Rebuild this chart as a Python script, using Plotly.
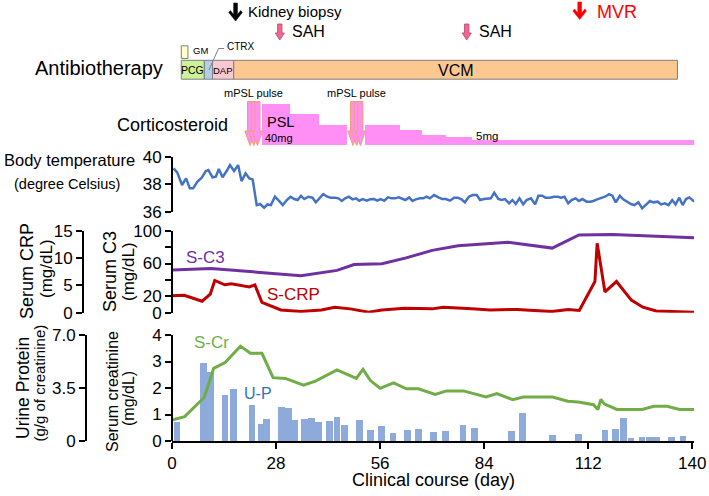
import plotly.graph_objects as go

# ---------------- data ----------------
# Body temperature (day, degree Celsius)
temp_day = [0.4, 1.4, 2.7, 3.8, 4.8, 5.7, 6.8, 8.0, 9.1, 9.8, 10.9, 11.8, 12.6, 13.6, 14.7, 15.6, 16.7, 17.8, 18.7, 19.8,
            20.8, 21.7, 22.8, 23.7, 24.8, 25.7, 26.6, 27.7, 28.8, 29.8, 30.9, 31.9, 32.9, 33.8, 34.7, 35.6, 36.7, 37.8, 38.7, 39.8,
            40.7, 41.8, 42.7, 43.9, 44.8, 45.7, 46.6, 47.6, 48.6, 49.5, 50.4, 51.3, 52.4, 53.3, 54.4, 55.2, 56.1, 57.1, 58.1, 59.1,
            60.0, 61.0, 61.8, 62.8, 63.8, 64.7, 65.6, 66.7, 67.6, 68.5,
            69.4, 70.5, 71.7, 72.7, 73.7, 74.8, 75.9, 76.9, 77.9, 78.8, 79.9, 80.9, 82.0, 82.9, 83.9, 84.9, 85.8, 86.7, 87.8, 88.7,
            89.6, 90.7, 91.6, 92.5, 93.5, 94.5, 95.4, 96.6, 97.7, 98.6, 99.6, 100.5, 101.7, 102.8, 103.8, 104.7, 105.6, 106.6, 107.5, 108.6,
            109.5, 110.4, 111.6, 112.5, 113.4, 114.4, 115.3, 116.5, 117.6, 118.5, 119.4, 120.5, 121.4, 122.6, 123.5, 124.4, 125.5, 126.5, 127.5, 128.6,
            129.5, 130.7, 131.6, 132.6, 133.6, 134.6, 135.5, 136.5, 137.4, 138.3, 139.2, 140.3, 141.2, 141.6]
temp_val = [39.15, 38.86, 37.94, 38.42, 37.70, 37.70, 38.18, 38.47, 38.96, 39.03, 38.50, 38.55, 39.10, 38.50, 38.96, 39.39, 38.96, 39.39, 38.23, 38.79,
            38.42, 38.35, 36.48, 36.56, 36.29, 36.53, 36.48, 37.09, 36.78, 36.48, 36.85, 37.09, 36.92, 36.85, 37.16, 36.92, 37.09, 37.02, 36.68, 37.02,
            37.28, 37.09, 37.02, 37.02, 36.97, 36.78, 36.97, 37.09, 36.90, 36.97, 36.80, 36.92, 36.80, 36.90, 36.92, 36.80, 36.92, 36.80, 37.04, 36.97,
            36.97, 37.04, 36.97, 36.85, 37.04, 36.78, 36.90, 36.97, 36.97, 37.09,
            36.97, 37.21, 37.04, 36.92, 36.92, 36.80, 37.02, 37.02, 36.90, 36.68, 37.09, 37.21, 37.21, 36.85, 36.92, 36.92, 36.97, 37.38, 36.92, 36.85,
            36.92, 36.61, 36.85, 36.56, 36.97, 36.53, 36.85, 36.97, 36.53, 37.16, 37.16, 37.02, 37.02, 37.09, 37.09, 37.02, 37.09, 36.61, 36.85, 36.97,
            36.78, 36.92, 36.73, 36.73, 36.78, 36.90, 36.97, 37.09, 37.28, 37.16, 36.68, 37.16, 36.90, 36.68, 36.56, 36.48, 36.68, 36.24, 36.48, 36.78,
            36.68, 36.73, 36.53, 36.61, 36.48, 36.85, 36.53, 37.02, 36.48, 36.92, 37.04, 36.78, 36.78, 36.97]

# Serum C3 (mg/dL)
c3_day = [0, 10.5, 34.7, 44.4, 49, 56.5, 63, 70, 77, 90.4, 102.3, 109.5, 118.5, 140.5]
c3_val = [52, 54, 45, 51.6, 58.8, 59.6, 66.8, 76, 81.6, 86, 78.8, 94.8, 95.5, 91.5]

# Serum CRP (mg/dL)
crp_day = [0, 3.3, 8.1, 10.3, 11.5, 14.2, 16, 20.8, 22.3, 24.2, 29.3, 34.7, 40.2, 43.8, 48, 52.9, 56.5, 62.6, 70, 73,
           80.7, 85.6, 92.9, 102.2, 106.6, 109.6, 113.8, 114.4, 116.5, 119.6, 123.6, 126.7, 130.3, 140.5]
crp_val = [3.1, 3.2, 2.1, 3.4, 5.9, 5.1, 5.3, 4.7, 5.1, 1.9, 0.5, 0.24, 0.5, 1.0, 0.7, 0.1, 0.5, 0.8, 0.7, 1.0,
           0.7, 0.5, 0.6, 0.2, 0.6, 0.4, 5.7, 12.7, 3.8, 5.7, 2.3, 1.0, 0.3, 0.1]

# Serum creatinine (mg/dL)
cr_day = [0, 3.4, 8.7, 11.2, 14.3, 18.4, 21.1, 24.2, 27.2, 30.5, 35.4, 38.6, 44.4, 49.6, 51.4, 53.4, 56, 59.6, 63.1, 66.3,
          70.8, 73.9, 78.4, 84.5, 87.4, 91.7, 94.5, 102.4, 106.5, 109.3, 113.4, 114.6, 115.4, 116.3, 119.7, 126.5, 129.7, 133.2, 136.6, 140.5]
cr_val = [0.79, 0.92, 1.65, 2.74, 2.96, 3.58, 3.31, 3.31, 2.39, 2.36, 2.11, 2.26, 2.68, 2.36, 2.70, 2.28, 1.99, 2.19, 1.97, 1.97,
          1.76, 1.89, 1.89, 1.66, 1.79, 1.56, 1.66, 1.66, 1.50, 1.47, 1.37, 1.19, 1.57, 1.40, 1.19, 1.19, 1.31, 1.31, 1.19, 1.19]

# Urine protein (g/g of creatinine)
up_day = [1.35, 8.5, 10.4, 14.3, 16.5, 21.5, 24.1, 25.5, 29.4, 31.3, 32.9, 35.6, 37.6, 39.4, 42.4, 44.4, 46.4, 50.5, 53.5, 56.4,
          59.5, 63.4, 66.4, 70.4, 73.5, 78.3, 81.4, 91.4, 94.4, 102.4, 109.4, 116.5, 119.4, 121.5, 123.5, 126.5, 128.4, 130.3, 134.4, 137.5]
up_val = [1.28, 5.18, 4.53, 3.01, 3.43, 2.36, 1.09, 1.47, 2.22, 2.19, 1.38, 1.47, 1.54, 1.26, 1.30, 1.61, 1.03, 1.38, 0.74, 0.96,
          0.53, 0.75, 0.82, 0.60, 0.68, 1.03, 0.86, 0.68, 1.82, 0.42, 0.44, 0.75, 0.77, 1.51, 0.19, 0.26, 0.26, 0.28, 0.26, 0.33]

# Prednisolone dosing steps (mg/day)
psl_start = [24.1, 31.7, 39.5, 51.9, 61.3, 67.2, 73.7, 80.6]
psl_end = [31.7, 39.5, 47.0, 61.3, 67.2, 73.7, 80.6, 141.0]
psl_dose = [40, 30, 20, 20, 15, 10, 7.5, 5]

# mPSL pulse days
mpsl_days = [21.0, 22.0, 23.0, 48.7, 49.7, 50.7]

# Antibiotherapy periods
abx_names = ["PCG", "CTRX", "DAP", "VCM"]
abx_start = [2.5, 8.7, 10.9, 16.6]
abx_end = [8.7, 10.9, 16.6, 136.0]
gm_start, gm_end = 2.5, 4.3

# Events
biopsy_day = 17.1
sah_days = [29.0, 79.3]
mvr_day = 109.7

x_ticks = [0, 28, 56, 84, 112, 140]

# ---------------- geometry helpers ----------------
W, H = 709, 496
X0_PX, X140_PX = 172.0, 692.3
PPD = (X140_PX - X0_PX) / 140.0
XMAX = 140.5
FONT = "Arial, Liberation Sans, sans-serif"


def fy(py):
    return 1 - py / H


def fx(px):
    return px / W


def day_px(d):
    return X0_PX + d * PPD


def path(day, pts):
    s = ""
    for i, (dx, py) in enumerate(pts):
        s += ("M" if i == 0 else "L") + f"{day + dx / PPD:.4f},{fy(py):.5f} "
    return s + "Z"


fig = go.Figure()

fig.add_trace(go.Scatter(x=temp_day, y=temp_val, mode="lines", yaxis="y",
                         line=dict(color="#4472C4", width=2.5), showlegend=False, hoverinfo="skip"))
fig.add_trace(go.Scatter(x=c3_day, y=c3_val, mode="lines", yaxis="y2",
                         line=dict(color="#7030A0", width=3), showlegend=False, hoverinfo="skip"))
fig.add_trace(go.Scatter(x=crp_day, y=crp_val, mode="lines", yaxis="y3",
                         line=dict(color="#C00000", width=3), showlegend=False, hoverinfo="skip"))
fig.add_trace(go.Bar(x=up_day, y=up_val, yaxis="y4", width=1.8,
                     marker=dict(color="#8EAADB", line=dict(width=0)), showlegend=False, hoverinfo="skip"))
fig.add_trace(go.Scatter(x=cr_day, y=cr_val, mode="lines", yaxis="y5",
                         line=dict(color="#70AD47", width=3), showlegend=False, hoverinfo="skip"))
psl_mid = [(a + b) / 2 for a, b in zip(psl_start, psl_end)]
psl_w = [b - a for a, b in zip(psl_start, psl_end)]
fig.add_trace(go.Bar(x=psl_mid, y=psl_dose, width=psl_w, yaxis="y6",
                     marker=dict(color="#FF8EF5", line=dict(width=0)), showlegend=False, hoverinfo="skip"))
abx_colors = ["#CCF29A", "#B4CEEA", "#F9C8D2", "#FCC890"]
fig.add_trace(go.Bar(orientation="h", y=[3.06] * 4 + [7.46],
                     x=[b - a for a, b in zip(abx_start, abx_end)] + [gm_end - gm_start],
                     base=abx_start + [gm_start], width=[4.72] * 4 + [3.17], yaxis="y7",
                     marker=dict(color=abx_colors + ["#FFFFCC"], line=dict(color="#7F7F7F", width=1)),
                     showlegend=False, hoverinfo="skip"))

ax_common = dict(showline=True, linewidth=2, linecolor="black", ticks="outside", ticklen=6,
                 tickwidth=2, tickcolor="black", showgrid=False, zeroline=False,
                 tickfont=dict(family=FONT, size=17, color="black"), automargin=False, fixedrange=True)

fig.update_layout(
    width=W, height=H, autosize=False,
    margin=dict(l=0, r=0, t=0, b=0),
    paper_bgcolor="white", plot_bgcolor="rgba(0,0,0,0)",
    barmode="overlay", bargap=0, hovermode=False,
    font=dict(family=FONT, color="black"),
    xaxis=dict(domain=[fx(X0_PX), fx(day_px(XMAX))], range=[0, XMAX], anchor="y4",
               tickvals=x_ticks, **ax_common),
    yaxis=dict(domain=[fy(211.7), fy(156.7)], range=[36, 40], anchor="free", position=fx(X0_PX),
               tickvals=[36, 38, 40], **ax_common),
    yaxis2=dict(domain=[fy(312.7), fy(230.7)], range=[0, 100], anchor="free", position=fx(X0_PX),
                tickvals=[0, 20, 40, 60, 80, 100], ticktext=["0", "20", "", "60", "", "100"], **ax_common),
    yaxis3=dict(overlaying="y2", range=[0, 15], anchor="free", position=fx(83),
                tickvals=[0, 5, 10, 15], **ax_common),
    yaxis4=dict(domain=[fy(441), fy(335)], range=[0, 7], anchor="free", position=fx(86),
                tickvals=[0, 3.5, 7], ticktext=["0", "3.5", "7.0"], **ax_common),
    yaxis5=dict(overlaying="y4", range=[0, 4], anchor="free", position=fx(X0_PX),
                tickvals=[0, 1, 2, 3, 4], **ax_common),
    yaxis6=dict(domain=[fy(145), fy(104)], range=[0, 40], visible=False, fixedrange=True),
    yaxis7=dict(domain=[fy(82), fy(42)], range=[0, 10], visible=False, fixedrange=True),
)

shapes = []


def chevron(day, top, tip, color):
    pts = [(-1.9, top), (1.9, top), (1.9, tip - 6.5), (5.2, tip - 10.5), (6.8, tip - 8.6), (0, tip),
           (-6.8, tip - 8.6), (-5.2, tip - 10.5), (-1.9, tip - 6.5)]
    return dict(type="path", xref="x", yref="paper", path=path(day, pts),
                fillcolor=color, line=dict(color=color, width=0.5))


shapes.append(chevron(biopsy_day, 3, 21, "black"))
shapes.append(chevron(mvr_day, 2, 19.5, "#FF0000"))
for d in sah_days:
    pts = [(-2.2, 24), (2.2, 24), (2.2, 33), (4.6, 33), (0, 40), (-4.6, 33), (-2.2, 33)]
    shapes.append(dict(type="path", xref="x", yref="paper", path=path(d, pts),
                       fillcolor="#EC6A92", line=dict(color="#C04070", width=0.8)))
for d in mpsl_days:
    pts = [(-2.5, 101.5), (2.5, 101.5), (2.5, 131), (5.2, 131), (0, 145.5), (-5.2, 131), (-2.5, 131)]
    shapes.append(dict(type="path", xref="x", yref="paper", path=path(d, pts),
                       fillcolor="#FF8EF5", line=dict(color="#EFA070", width=1)))
lx = [(209 - X0_PX) / PPD, (218.5 - X0_PX) / PPD, (224 - X0_PX) / PPD]
shapes.append(dict(type="path", xref="x", yref="paper",
                   path=f"M{lx[0]:.3f},{fy(70):.5f} L{lx[1]:.3f},{fy(48.5):.5f} L{lx[2]:.3f},{fy(48.5):.5f}",
                   line=dict(color="#808080", width=1)))
fig.update_layout(shapes=shapes)

ann = []


def A(text, x, y, size, color="black", xanchor="center", xref="paper", angle=0, xshift=0):
    ann.append(dict(text=text, x=x if xref != "paper" else fx(x), y=fy(y), xref=xref, yref="paper",
                    xanchor=xanchor, yanchor="middle", showarrow=False, textangle=angle, xshift=xshift,
                    font=dict(family=FONT, size=size, color=color)))


A("Kidney biopsy", biopsy_day, 12, 15, xanchor="left", xref="x", xshift=10.5)
for d in sah_days:
    A("SAH", d, 31, 16, xanchor="left", xref="x", xshift=10)
A("MVR", mvr_day, 12, 18, color="#FF0000", xanchor="left", xref="x", xshift=15)

A("Antibiotherapy", 165, 68, 20, xanchor="right")
A("GM", 191, 51, 9.5, xanchor="left")
A("CTRX", 225, 47, 10, xanchor="left")
for name, a, b, s in zip(abx_names, abx_start, abx_end, [10.5, 0, 9.5, 16]):
    if s:
        A(name, (a + b) / 2, 70, s, xref="x")

A("mPSL pulse", sum(mpsl_days[:3]) / 3, 92.5, 11, xref="x")
A("mPSL pulse", sum(mpsl_days[3:]) / 3, 92.5, 11, xref="x")
A("Corticosteroid", 230, 125, 18, xanchor="right")
A("PSL", 280.3, 122, 14.5)
A("40mg", 278.8, 137.5, 11)
A("5mg", 487, 135.5, 11.5)

A("Body temperature", 69, 160, 16.5)
A("(degree Celsius)", 67, 184, 14.5)

A("Serum CRP", 27, 271, 18, angle=-90)
A("(mg/dL)", 46, 269, 17, angle=-90)
A("Serum C3", 110, 272, 18, angle=-90)
A("(mg/dL)", 128, 272, 17, angle=-90)
A("S-C3", 205, 257, 17, color="#7030A0")
A("S-CRP", 293, 294, 17, color="#C00000")

A("Urine Protein", 22.5, 388.5, 17.5, angle=-90)
A("(g/g of creatinine)", 38.5, 383, 15, angle=-90)
A("Serum creatinine", 112.5, 391.5, 16, angle=-90)
A("(mg/dL)", 128.5, 398.5, 16, angle=-90)
A("S-Cr", 212, 342, 17, color="#70AD47")
A("U-P", 258, 393, 16, color="#2E75B6")

A("Clinical course (day)", 433, 480, 18)

fig.update_layout(annotations=ann)
fig.write_html("out.html", config={"displayModeBar": False, "staticPlot": True},
               post_script="document.body.style.margin='0px';document.body.style.padding='0px';")
